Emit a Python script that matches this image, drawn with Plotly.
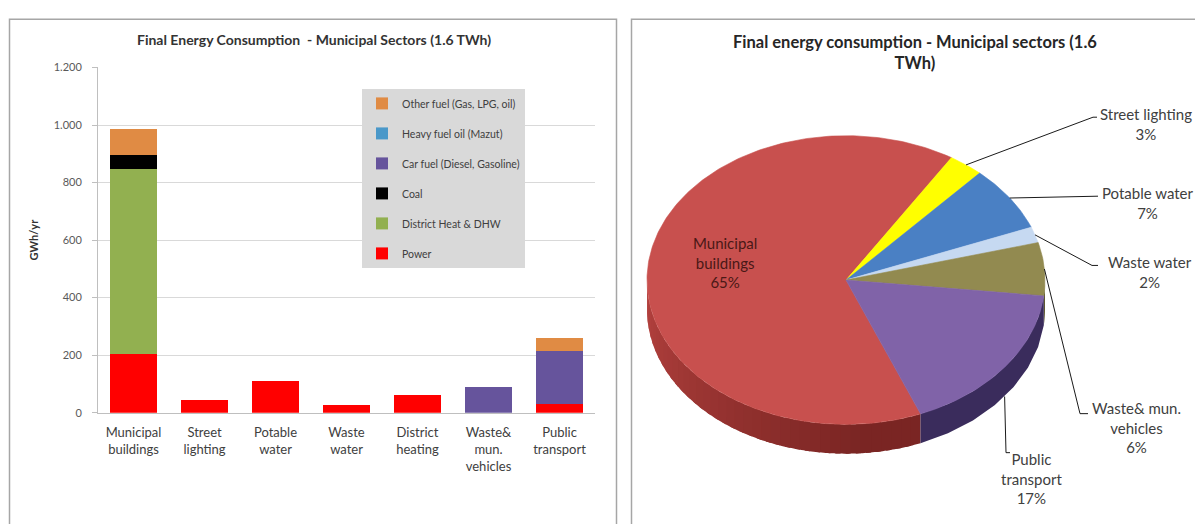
import numpy as np
import plotly.graph_objects as go

# ---------------- data ----------------
categories = ["Municipal<br>buildings", "Street<br>lighting", "Potable<br>water",
              "Waste<br>water", "District<br>heating", "Waste&<br>mun.<br>vehicles",
              "Public<br>transport"]

power          = [205, 43, 111, 27, 60, 0, 31]
district_heat  = [643, 0, 0, 0, 0, 0, 0]
coal           = [46, 0, 0, 0, 0, 0, 0]
car_fuel       = [0, 0, 0, 0, 0, 90, 183]
heavy_fuel_oil = [0, 0, 0, 0, 0, 0, 0]
other_fuel     = [92, 0, 0, 0, 0, 0, 46]

# pie sectors (all municipal sectors except district heating)
pie_labels = ["Municipal<br>buildings", "Street lighting", "Potable water",
              "Waste water", "Waste& mun.<br>vehicles", "Public<br>transport"]
pie_source_index = [0, 1, 2, 3, 5, 6]

W, H = 1195, 524


def fx(px):
    return px / W


def fy(py):
    return 1 - py / H


fig = go.Figure()

# ---------------- stacked bar chart ----------------
series = [
    ("Power", power, "#ff0000"),
    ("District Heat & DHW", district_heat, "#92b050"),
    ("Coal", coal, "#000000"),
    ("Car fuel (Diesel, Gasoline)", car_fuel, "#66549c"),
    ("Heavy fuel oil (Mazut)", heavy_fuel_oil, "#4a98c9"),
    ("Other fuel (Gas, LPG, oil)", other_fuel, "#e08b44"),
]
for rank, (name, vals, color) in enumerate(series):
    fig.add_trace(go.Bar(
        x=categories, y=vals, name=name, legendgroup=name,
        legendrank=100 - rank,
        marker=dict(color=color, line=dict(width=0)),
        xaxis="x", yaxis="y",
    ))

# ---------------- 3D-style pie ----------------
totals = [sum(s[1][i] for s in series) for i in range(len(categories))]
pie_values = [totals[i] for i in pie_source_index]
pie_total = sum(pie_values)
pie_top = ["#c8504e", "#ffff00", "#4a80c4", "#c6d9f1", "#928a50", "#8063a8"]
pie_side = ["#7a2523", "#b3b300", "#2f5587", "#8da0b8", "#5e5830", "#3a2c5c"]

cx, cy, rx, ry, depth = 846, 280, 199, 148, 30
start_deg = 158.0  # clockwise from 12 o'clock


def pt(theta_deg, dy=0.0):
    t = np.radians(theta_deg)
    return cx + rx * np.sin(t), cy - ry * np.cos(t) + dy


def mix(c1, c2, t):
    a = [int(c1[i:i + 2], 16) for i in (1, 3, 5)]
    b = [int(c2[i:i + 2], 16) for i in (1, 3, 5)]
    return "#" + "".join(f"{int(round(a[k] + (b[k] - a[k]) * t)):02x}" for k in range(3))


angles = []
acc = start_deg
for v in pie_values:
    span = v / pie_total * 360.0
    angles.append((acc, acc + span))
    acc += span

# side walls (front half only); the first sector is shaded in overlapping strips
for idx, (a, b) in enumerate(angles):
    for k in (-360, 0, 360):
        lo, hi = max(a, 90 + k), min(b, 270 + k)
        if hi <= lo:
            continue
        if idx == 0:
            edges = np.linspace(lo, hi, int((hi - lo) / 3) + 2)
        else:
            edges = np.array([lo, hi])
        for j, (e0, e1) in enumerate(zip(edges[:-1], edges[1:])):
            e1x = min(e1 + 1.5, hi) if j < len(edges) - 2 else e1
            th = np.linspace(e0, e1x, 8)
            xs_t, ys_t = pt(th)
            xs_b, ys_b = pt(th[::-1], depth)
            mid = (e0 + e1) / 2 - k
            shade = np.clip((mid - 175) / 95, 0, 1)
            col = mix(pie_side[idx], "#b5423f", shade) if idx == 0 else pie_side[idx]
            fig.add_trace(go.Scatter(
                x=np.concatenate([xs_t, xs_b]), y=np.concatenate([ys_t, ys_b]),
                fill="toself", fillcolor=col, mode="none",
                hoverinfo="skip", showlegend=False, xaxis="x2", yaxis="y2",
            ))

# top faces
for idx, (a, b) in enumerate(angles):
    th = np.linspace(a, b, max(4, int(b - a) + 2))
    xs, ys = pt(th)
    fig.add_trace(go.Scatter(
        x=np.concatenate([[cx], xs, [cx]]), y=np.concatenate([[cy], ys, [cy]]),
        fill="toself", fillcolor=pie_top[idx], mode="lines",
        line=dict(color=pie_top[idx], width=0.6),
        name=pie_labels[idx].replace("<br>", " "),
        hovertemplate="%{fullData.name}<extra></extra>",
        showlegend=False, xaxis="x2", yaxis="y2",
    ))

# data labels with leader lines
pct = [round(v / pie_total * 100) for v in pie_values]
label_layout = {
    # idx: (elbow points, text-left x, text-centre y, anchored on side wall)
    1: ([(1093, 113), (1097, 113)], 1098, 120, False),
    2: ([(1098, 194)], 1100, 201, False),
    3: ([(1092, 265), (1098, 265)], 1106, 272, False),
    4: ([(1080, 417), (1088, 417)], 1090, 431, False),
    5: ([(1006, 457), (1010, 457)], 999, 483, True),
}
annotations = []
for idx, (pts, tx, ty, on_side) in label_layout.items():
    a, b = angles[idx]
    ax_, ay_ = pt((a + b) / 2, depth if on_side else 0)
    xs = [ax_] + [p[0] for p in pts]
    ys = [ay_] + [p[1] for p in pts]
    fig.add_trace(go.Scatter(
        x=xs, y=ys, mode="lines", line=dict(color="#1a1a1a", width=1),
        hoverinfo="skip", showlegend=False, xaxis="x2", yaxis="y2",
    ))
    annotations.append(dict(
        x=tx, y=ty, xref="x2", yref="y2", xanchor="left", yanchor="middle",
        align="center", showarrow=False,
        text=f"{pie_labels[idx]}<br>{pct[idx]}%",
        font=dict(size=15, color="#404040"),
    ))

annotations.append(dict(
    x=725, y=262, xref="x2", yref="y2", xanchor="center", yanchor="middle",
    align="center", showarrow=False,
    text=f"{pie_labels[0]}<br>{pct[0]}%",
    font=dict(size=15, color="#4a1816"),
))

# chart titles
annotations.append(dict(
    x=fx(314), y=fy(33), xref="paper", yref="paper", xanchor="center", yanchor="middle",
    showarrow=False, text="<b>Final Energy Consumption  - Municipal Sectors (1.6 TWh)</b>",
    font=dict(size=14, color="#333333"),
))
annotations.append(dict(
    x=915, y=47, xref="x2", yref="y2", xanchor="center", yanchor="middle",
    align="center", showarrow=False,
    text="<b>Final energy consumption - Municipal sectors (1.6<br>TWh)</b>",
    font=dict(size=16.5, color="#262626"),
))

# panel frames
shapes = [
    dict(type="rect", xref="paper", yref="paper",
         x0=fx(9.5), x1=fx(616.5), y0=fy(640), y1=fy(12.5),
         line=dict(color="#a6a6a6", width=1.5), fillcolor="rgba(0,0,0,0)", layer="below"),
    dict(type="rect", xref="paper", yref="paper",
         x0=fx(631.5), x1=fx(1300), y0=fy(640), y1=fy(12.5),
         line=dict(color="#a6a6a6", width=1.5), fillcolor="rgba(0,0,0,0)", layer="below"),
]

fig.update_layout(
    width=W, height=H,
    margin=dict(l=0, r=0, t=0, b=0),
    paper_bgcolor="white", plot_bgcolor="white",
    font=dict(family="Lato, 'Open Sans', sans-serif", color="#404040"),
    separators=",.",
    barmode="stack", bargap=0.35,
    showlegend=True,
    legend=dict(
        x=fx(362), y=fy(84), xanchor="left", yanchor="top",
        bgcolor="#d9d9d9", borderwidth=0,
        font=dict(size=10.5, color="#404040"),
        traceorder="grouped", tracegroupgap=11,
        itemclick=False, itemdoubleclick=False,
    ),
    xaxis=dict(
        domain=[fx(98), fx(595)], anchor="y",
        showline=True, linecolor="#bfbfbf", linewidth=1,
        ticks="", tickfont=dict(size=13, color="#404040"),
        ticklabelstandoff=8, fixedrange=True,
    ),
    yaxis=dict(
        domain=[fy(416), fy(62)], anchor="x",
        range=[0, 1200], dtick=200, tickformat=",",
        showgrid=True, gridcolor="#d9d9d9", gridwidth=1, zeroline=False,
        showline=True, linecolor="#bfbfbf", linewidth=1,
        ticks="outside", ticklen=5, tickcolor="#bfbfbf",
        tickfont=dict(size=11, color="#595959"), ticklabelstandoff=8,
        title=dict(text="<b>GWh/yr</b>", font=dict(size=11, color="#333333"), standoff=12),
        fixedrange=True,
    ),
    xaxis2=dict(domain=[fx(631), 1], range=[631, 1195], anchor="y2",
                visible=False, fixedrange=True),
    yaxis2=dict(domain=[0, 1], range=[524, 0], anchor="x2",
                visible=False, fixedrange=True),
    annotations=annotations,
    shapes=shapes,
)

fig.write_html("out.html")
